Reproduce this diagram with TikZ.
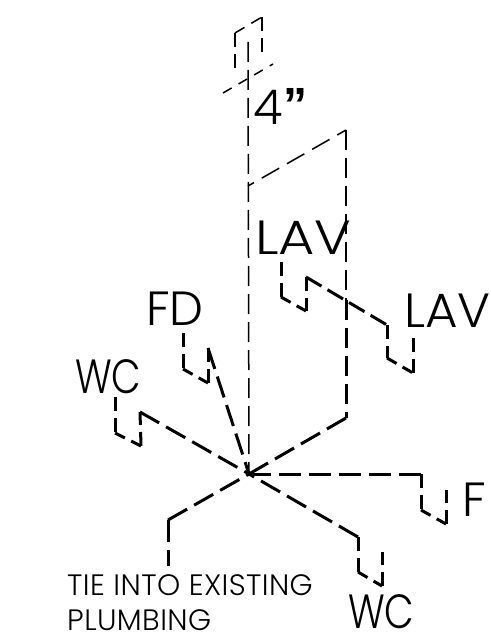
\documentclass[tikz,border=0pt]{standalone}
\usepackage{fontspec}
\setmainfont{Poppins}[UprightFont=* Light]
\newfontfamily\quotefont{Liberation Sans}[UprightFont=* Bold]
\newfontfamily\notefont{Poppins}[UprightFont=* Light,LetterSpace=1.4]
\tikzset{
  lab/.style={anchor=base west,inner sep=0pt,font=\fontsize{48}{48}\selectfont,text=black},
  note/.style={anchor=base west,inner sep=0pt,font=\fontsize{29.5}{29.5}\notefont,text=black},
  thinline/.style={draw=black,line width=1.5pt,dash pattern=on 20pt off 8pt},
  thickline/.style={draw=black,line width=3pt,dash pattern=on 22pt off 8pt},
  runline/.style={draw=black,line width=3pt,dash pattern=on 18pt off 7pt},
  legline/.style={draw=black,line width=3pt,dash pattern=on 14pt off 7pt},
  shortline/.style={draw=black,line width=3pt,dash pattern=on 11pt off 7pt},
  capline/.style={draw=black,line width=1.5pt,dash pattern=on 14pt off 7pt}
}
\begin{document}
\begin{tikzpicture}[x=1pt,y=-1pt]
\useasboundingbox (0,0) rectangle (490,636);
% hub and stack
\coordinate (hub) at (249,474);
\coordinate (stacktop) at (248,42);
\coordinate (stackjoin) at (248,186);
\coordinate (rise) at (346,130);
\coordinate (risemid) at (346,300);
\coordinate (risebase) at (346,418);
\draw[thinline] (stacktop) -- (hub);
\draw[thinline,dash pattern=on 20pt off 9pt,dash phase=10pt] (rise) -- (stackjoin);
\draw[thinline] (rise) -- (risemid);
\draw[thickline,dash pattern=on 20pt off 8pt] (risemid) -- (risebase);
\draw[thickline] (risebase) -- (hub);
% top cap
\coordinate (capa) at (235,68);
\coordinate (capb) at (235,33);
\coordinate (capc) at (262,17);
\coordinate (capd) at (262,52);
\coordinate (crossa) at (223,93);
\coordinate (crossb) at (273,64);
\draw[capline] (capb) -- (capa);
\draw[capline,dash pattern=on 11pt off 8pt] (capb) -- (capc);
\draw[capline] (capc) -- (capd);
\draw[thinline,dash pattern=on 10pt off 8pt] (crossa) -- (crossb);
% lavatories
\coordinate (la) at (281,262);
\coordinate (lb) at (281,297);
\coordinate (lc) at (306,311);
\coordinate (ld) at (306,277);
\coordinate (le) at (387,325);
\coordinate (lf) at (387,358);
\coordinate (lg) at (413,373);
\coordinate (lh) at (413,337);
\draw[legline] (la) -- (lb);
\draw[shortline] (lb) -- (lc);
\draw[legline] (ld) -- (lc);
\draw[runline] (ld) -- (le);
\draw[legline] (le) -- (lf);
\draw[shortline] (lf) -- (lg);
\draw[legline] (lg) -- (lh);
% floor drain
\coordinate (fa) at (183,333);
\coordinate (fb) at (183,369);
\coordinate (fc) at (208,383);
\coordinate (fd) at (208,348);
\draw[legline] (fa) -- (fb);
\draw[shortline] (fb) -- (fc);
\draw[legline] (fc) -- (fd);
\draw[thickline] (fd) -- (hub);
% left WC
\coordinate (wa) at (115,397);
\coordinate (wb) at (115,433);
\coordinate (wc) at (141,446);
\coordinate (wd) at (140,412);
\draw[legline] (wa) -- (wb);
\draw[shortline] (wb) -- (wc);
\draw[legline] (wc) -- (wd);
\draw[thickline] (wd) -- (hub);
% tie-in
\coordinate (ta) at (168,520);
\coordinate (tb) at (168,566);
\draw[thickline] (ta) -- (hub);
\draw[thickline] (ta) -- (tb);
% F
\coordinate (ra) at (421,474);
\coordinate (rb) at (421,510);
\coordinate (rc) at (446,524);
\coordinate (rd) at (446,490);
\draw[thickline] (ra) -- (hub);
\draw[legline] (ra) -- (rb);
\draw[shortline] (rb) -- (rc);
\draw[legline] (rc) -- (rd);
% lower WC
\coordinate (sa) at (358,537);
\coordinate (sb) at (358,572);
\coordinate (sc) at (382,586);
\coordinate (sd) at (382,552);
\draw[thickline] (sa) -- (hub);
\draw[legline] (sa) -- (sb);
\draw[shortline] (sb) -- (sc);
\draw[legline] (sc) -- (sd);
% labels
\node[lab] (pipe) at (253,125) {4\raisebox{3pt}{\quotefont\kern1pt”}};
\node[lab] (lav1) at (255,254) {\scalebox{1.16}[1]{LAV}};
\node[lab] (lav2) at (404,327) {\scalebox{1.04}[1]{LAV}};
\node[lab] (fdl) at (146,325) {FD};
\node[lab] (wcl) at (75,393) {\scalebox{.8}[1]{WC}};
\node[lab] (fl) at (462,516) {F};
\node[lab] (wcr) at (348,628) {\scalebox{.8}[1]{WC}};
\node[note] (tie) at (67,595) {TIE INTO EXISTING};
\node[note] (plb) at (67,630) {PLUMBING};
\end{tikzpicture}
\end{document}
